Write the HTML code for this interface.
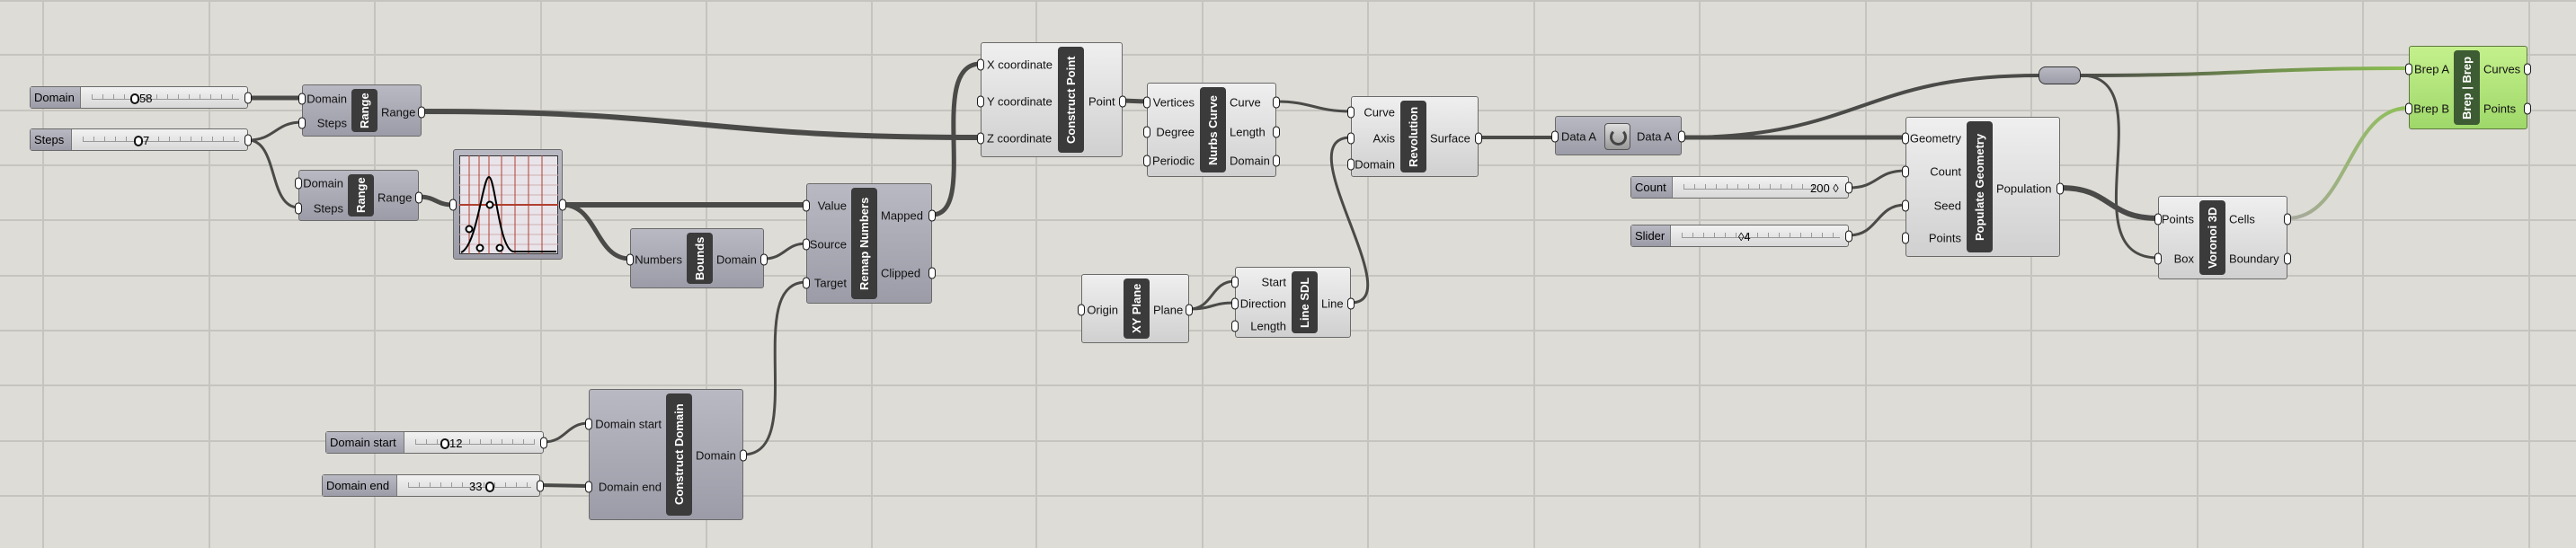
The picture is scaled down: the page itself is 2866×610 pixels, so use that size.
<!DOCTYPE html>
<html><head><meta charset="utf-8"><style>
body{margin:0;width:2866px;height:610px;overflow:hidden;background:#dedcd6;font-family:"Liberation Sans",sans-serif;}
svg{position:absolute;left:0;top:0}
.c{position:absolute;box-sizing:border-box;border:1.5px solid #6a6a6a;border-radius:3px;background:linear-gradient(#efefef,#d0d0d0);}
.d{background:linear-gradient(#b9b9c3,#9c9ca8);}
.g{background:linear-gradient(#c4f08c,#9fd86a);border-color:#5d7a40}
.t{position:absolute;top:4px;bottom:4px;width:29px;background:#3b3b3b;border-radius:4px;color:#fff;font-weight:bold;font-size:13px;writing-mode:vertical-rl;transform:rotate(180deg);display:flex;align-items:center;justify-content:center;white-space:nowrap;overflow:hidden}
.g .t{background:#3e5c33}
.l{position:absolute;font-size:13px;color:#111;transform:translateY(-50%);white-space:nowrap}
.r{text-align:right}
.p{position:absolute;width:6px;height:11px;border:1.5px solid #1a1a1a;background:#fff;border-radius:6px;transform:translateY(-50%)}
.s{position:absolute;box-sizing:border-box;height:25px;border:1.5px solid #6a6a6a;border-radius:3px;background:linear-gradient(#f2f2f2,#d8d8d8);}
.sl{position:absolute;left:0;top:0;bottom:0;background:linear-gradient(#b9b9c3,#9c9ca8);border-right:1px solid #777;font-size:13px;display:flex;align-items:center;padding-left:4px;box-sizing:border-box}
.gr{position:absolute;top:8px;height:5px;border-bottom:1px solid #999;background:repeating-linear-gradient(90deg,#999 0 1px,transparent 1px 12px)}
.k{position:absolute;top:7px;width:6px;height:8px;border:2px solid #111;border-radius:5px;background:#fff}
.v{position:absolute;top:5px;font-size:13px}
</style></head><body>
<svg width="2866" height="610">
<g stroke="#c6c4be" stroke-width="2">
<line x1="48" y1="0" x2="48" y2="610"/><line x1="233" y1="0" x2="233" y2="610"/><line x1="417" y1="0" x2="417" y2="610"/><line x1="602" y1="0" x2="602" y2="610"/><line x1="786" y1="0" x2="786" y2="610"/><line x1="970" y1="0" x2="970" y2="610"/><line x1="1153" y1="0" x2="1153" y2="610"/><line x1="1338" y1="0" x2="1338" y2="610"/><line x1="1522" y1="0" x2="1522" y2="610"/><line x1="1707" y1="0" x2="1707" y2="610"/><line x1="1891" y1="0" x2="1891" y2="610"/><line x1="2076" y1="0" x2="2076" y2="610"/><line x1="2260" y1="0" x2="2260" y2="610"/><line x1="2445" y1="0" x2="2445" y2="610"/><line x1="2629" y1="0" x2="2629" y2="610"/><line x1="2814" y1="0" x2="2814" y2="610"/>
<line x1="0" y1="1" x2="2866" y2="1"/><line x1="0" y1="61" x2="2866" y2="61"/><line x1="0" y1="123" x2="2866" y2="123"/><line x1="0" y1="184" x2="2866" y2="184"/><line x1="0" y1="245" x2="2866" y2="245"/><line x1="0" y1="307" x2="2866" y2="307"/><line x1="0" y1="368" x2="2866" y2="368"/><line x1="0" y1="429" x2="2866" y2="429"/><line x1="0" y1="491" x2="2866" y2="491"/><line x1="0" y1="552" x2="2866" y2="552"/>
</g>
<defs>
<linearGradient id="gg1" gradientUnits="userSpaceOnUse" x1="2315" y1="0" x2="2680" y2="0"><stop offset="0" stop-color="#4a4a48"/><stop offset="1" stop-color="#8cc152"/></linearGradient>
<linearGradient id="gg2" gradientUnits="userSpaceOnUse" x1="2545" y1="0" x2="2680" y2="0"><stop offset="0" stop-color="#a8a8a0"/><stop offset="1" stop-color="#8cc152"/></linearGradient>
</defs>
<g fill="none" stroke="#4a4a48" stroke-linecap="round">
<path d="M276 109 L336 109" stroke-width="5"/>
<path d="M276 156 C306 156 306 136 336 136" stroke-width="3"/>
<path d="M276 156 C310 156 298 231 332 231" stroke-width="3"/>
<path d="M469 124 C780 124 780 153 1091 153" stroke-width="6"/>
<path d="M466 219 C485 219 485 228 504 228" stroke-width="5"/>
<path d="M626 228 L897 228" stroke-width="6"/>
<path d="M626 228 C665 228 662 288 701 288" stroke-width="5"/>
<path d="M850 288 C873 288 874 271 897 271" stroke-width="3"/>
<path d="M827 506 C900 506 825 314 897 314" stroke-width="3"/>
<path d="M605 492 C630 492 630 471 655 471" stroke-width="3"/>
<path d="M601 540 L655 541" stroke-width="4"/>
<path d="M1037 239 C1090 239 1030 71 1091 71" stroke-width="5"/>
<path d="M1249 112 L1276 113" stroke-width="5"/>
<path d="M1420 113 C1460 113 1463 124 1503 124" stroke-width="3"/>
<path d="M1323 344 C1350 344 1347 313 1374 313" stroke-width="3"/>
<path d="M1323 344 C1350 344 1347 337 1374 337" stroke-width="3"/>
<path d="M1503 337 C1570 337 1430 153 1503 153" stroke-width="3"/>
<path d="M1645 153 L1730 153" stroke-width="4"/>
<path d="M1871 153 L2120 153" stroke-width="5"/>
<path d="M1871 153 C2070 153 2070 84 2268 84" stroke-width="4"/>
<path d="M2057 209 C2090 209 2087 190 2120 190" stroke-width="3"/>
<path d="M2057 262 C2090 262 2087 228 2120 228" stroke-width="3"/>
<path d="M2292 209 C2350 209 2343 243 2401 243" stroke-width="6"/>
<path d="M2315 84 C2410 84 2300 287 2401 287" stroke-width="3"/>
<path d="M2315 84 C2500 84 2500 76 2680 76" stroke="url(#gg1)" stroke-width="4"/>
<path d="M2545 243 C2612 243 2612 120 2680 120" stroke="url(#gg2)" stroke-width="4"/>
</g>
</svg>

<div class="s" style="left:33px;top:96px;width:243px"><div class="sl" style="width:56px">Domain</div><div class="gr" style="left:68px;width:164px"></div><div class="k" style="left:111px"></div><div class="v" style="left:121px">58</div><div class="p" style="right:-5px;top:12px"></div></div>
<div class="s" style="left:33px;top:143px;width:243px"><div class="sl" style="width:46px">Steps</div><div class="gr" style="left:58px;width:174px"></div><div class="k" style="left:115px"></div><div class="v" style="left:125px">7</div><div class="p" style="right:-5px;top:12px"></div></div>
<div class="s" style="left:362px;top:480px;width:243px"><div class="sl" style="width:87px">Domain start</div><div class="gr" style="left:99px;width:133px"></div><div class="k" style="left:127px"></div><div class="v" style="left:137px">12</div><div class="p" style="right:-5px;top:12px"></div></div>
<div class="s" style="left:358px;top:528px;width:243px"><div class="sl" style="width:83px">Domain end</div><div class="gr" style="left:95px;width:137px"></div><div class="v" style="left:163px">33</div><div class="k" style="left:181px"></div><div class="p" style="right:-5px;top:12px"></div></div>
<div class="s" style="left:1814px;top:196px;width:243px"><div class="sl" style="width:46px">Count</div><div class="gr" style="left:58px;width:150px"></div><div class="v" style="left:199px">200 ◊</div><div class="p" style="right:-5px;top:12px"></div></div>
<div class="s" style="left:1814px;top:250px;width:243px"><div class="sl" style="width:44px">Slider</div><div class="gr" style="left:56px;width:176px"></div><div class="v" style="left:119px">◊4</div><div class="p" style="right:-5px;top:12px"></div></div>

<div class="c d" style="left:336px;top:94px;width:133px;height:58px"><div class="t" style="left:54px">Range</div>
<div class="l r" style="right:82px;top:15px">Domain</div><div class="l r" style="right:82px;top:42px">Steps</div><div class="l" style="left:87px;top:30px">Range</div>
<div class="p" style="left:-5px;top:15px"></div><div class="p" style="left:-5px;top:42px"></div><div class="p" style="right:-5px;top:30px"></div></div>
<div class="c d" style="left:332px;top:189px;width:134px;height:57px"><div class="t" style="left:54px">Range</div>
<div class="l r" style="right:83px;top:14px">Domain</div><div class="l r" style="right:83px;top:42px">Steps</div><div class="l" style="left:87px;top:30px">Range</div>
<div class="p" style="left:-5px;top:14px"></div><div class="p" style="left:-5px;top:42px"></div><div class="p" style="right:-5px;top:30px"></div></div>
<div class="c d" style="left:504px;top:166px;width:122px;height:123px">
<svg style="left:6px;top:6px" width="110" height="110"><rect x="0" y="0" width="110" height="110" fill="#e8e4ea" stroke="#333" stroke-width="2"/>
<g stroke="#d0b0b0" stroke-width="1"><line x1="0" y1="11" x2="110" y2="11"/><line x1="0" y1="22" x2="110" y2="22"/><line x1="0" y1="33" x2="110" y2="33"/><line x1="0" y1="44" x2="110" y2="44"/><line x1="0" y1="66" x2="110" y2="66"/><line x1="0" y1="77" x2="110" y2="77"/><line x1="0" y1="88" x2="110" y2="88"/><line x1="0" y1="99" x2="110" y2="99"/></g>
<g stroke="#b04030" stroke-width="1"><line x1="11" y1="0" x2="11" y2="110"/><line x1="22" y1="0" x2="22" y2="110"/><line x1="33" y1="0" x2="33" y2="110"/><line x1="47" y1="0" x2="47" y2="110"/><line x1="62" y1="0" x2="62" y2="110"/><line x1="77" y1="0" x2="77" y2="110"/><line x1="92" y1="0" x2="92" y2="110"/><line x1="0" y1="55" x2="110" y2="55" stroke-width="2"/></g>
<path d="M2 108 C20 100 26 24 33 24 C40 24 44 104 60 107 L108 107" fill="none" stroke="#000" stroke-width="2"/>
<g fill="#fff" stroke="#000" stroke-width="2"><circle cx="11" cy="82" r="3.5"/><circle cx="34" cy="55" r="3.5"/><circle cx="23" cy="103" r="3.5"/><circle cx="45" cy="103" r="3.5"/></g></svg>
<div class="p" style="left:-5px;top:61px"></div><div class="p" style="right:-5px;top:61px"></div></div>
<div class="c d" style="left:701px;top:254px;width:149px;height:67px"><div class="t" style="left:62px">Bounds</div>
<div class="l r" style="right:90px;top:34px">Numbers</div><div class="l" style="left:95px;top:34px">Domain</div>
<div class="p" style="left:-5px;top:34px"></div><div class="p" style="right:-5px;top:34px"></div></div>
<div class="c d" style="left:897px;top:204px;width:140px;height:134px"><div class="t" style="left:49px">Remap Numbers</div>
<div class="l r" style="right:94px;top:24px">Value</div><div class="l r" style="right:94px;top:67px">Source</div><div class="l r" style="right:94px;top:110px">Target</div>
<div class="l" style="left:82px;top:35px">Mapped</div><div class="l" style="left:82px;top:99px">Clipped</div>
<div class="p" style="left:-5px;top:24px"></div><div class="p" style="left:-5px;top:67px"></div><div class="p" style="left:-5px;top:110px"></div><div class="p" style="right:-5px;top:35px"></div><div class="p" style="right:-5px;top:99px"></div></div>
<div class="c d" style="left:655px;top:433px;width:172px;height:146px"><div class="t" style="left:85px">Construct Domain</div>
<div class="l r" style="right:90px;top:38px">Domain start</div><div class="l r" style="right:90px;top:108px">Domain end</div><div class="l" style="left:118px;top:73px">Domain</div>
<div class="p" style="left:-5px;top:38px"></div><div class="p" style="left:-5px;top:108px"></div><div class="p" style="right:-5px;top:73px"></div></div>
<div class="c" style="left:1091px;top:47px;width:158px;height:128px"><div class="t" style="left:85px">Construct Point</div>
<div class="l" style="left:6px;top:24px">X coordinate</div><div class="l" style="left:6px;top:65px">Y coordinate</div><div class="l" style="left:6px;top:106px">Z coordinate</div><div class="l" style="left:119px;top:65px">Point</div>
<div class="p" style="left:-5px;top:24px"></div><div class="p" style="left:-5px;top:65px"></div><div class="p" style="left:-5px;top:106px"></div><div class="p" style="right:-5px;top:65px"></div></div>
<div class="c" style="left:1276px;top:92px;width:144px;height:105px"><div class="t" style="left:58px">Nurbs Curve</div>
<div class="l r" style="right:90px;top:21px">Vertices</div><div class="l r" style="right:90px;top:54px">Degree</div><div class="l r" style="right:90px;top:86px">Periodic</div>
<div class="l" style="left:91px;top:21px">Curve</div><div class="l" style="left:91px;top:54px">Length</div><div class="l" style="left:91px;top:86px">Domain</div>
<div class="p" style="left:-5px;top:21px"></div><div class="p" style="left:-5px;top:54px"></div><div class="p" style="left:-5px;top:86px"></div><div class="p" style="right:-5px;top:21px"></div><div class="p" style="right:-5px;top:54px"></div><div class="p" style="right:-5px;top:86px"></div></div>
<div class="c" style="left:1503px;top:107px;width:142px;height:90px"><div class="t" style="left:54px">Revolution</div>
<div class="l r" style="right:92px;top:17px">Curve</div><div class="l r" style="right:92px;top:46px">Axis</div><div class="l r" style="right:92px;top:75px">Domain</div><div class="l" style="left:87px;top:46px">Surface</div>
<div class="p" style="left:-5px;top:17px"></div><div class="p" style="left:-5px;top:46px"></div><div class="p" style="left:-5px;top:75px"></div><div class="p" style="right:-5px;top:46px"></div></div>
<div class="c" style="left:1203px;top:305px;width:120px;height:77px"><div class="t" style="left:46px">XY Plane</div>
<div class="l r" style="right:78px;top:39px">Origin</div><div class="l" style="left:79px;top:39px">Plane</div>
<div class="p" style="left:-5px;top:39px"></div><div class="p" style="right:-5px;top:39px"></div></div>
<div class="c" style="left:1374px;top:297px;width:129px;height:79px"><div class="t" style="left:62px">Line SDL</div>
<div class="l r" style="right:71px;top:16px">Start</div><div class="l r" style="right:71px;top:40px">Direction</div><div class="l r" style="right:71px;top:65px">Length</div><div class="l" style="left:95px;top:40px">Line</div>
<div class="p" style="left:-5px;top:16px"></div><div class="p" style="left:-5px;top:40px"></div><div class="p" style="left:-5px;top:65px"></div><div class="p" style="right:-5px;top:40px"></div></div>
<div class="c d" style="left:1730px;top:129px;width:141px;height:44px">
<div class="l" style="left:6px;top:22px">Data A</div><div class="l" style="left:90px;top:22px">Data A</div>
<div style="position:absolute;left:54px;top:7px;width:27px;height:28px;border-radius:4px;background:linear-gradient(#ddd,#999);border:1px solid #555"><div style="position:absolute;left:5px;top:5px;width:13px;height:13px;border:3px solid #444;border-top-color:transparent;border-radius:50%"></div></div>
<div class="p" style="left:-5px;top:22px"></div><div class="p" style="right:-5px;top:22px"></div></div>
<div class="c d" style="left:2268px;top:74px;width:47px;height:20px;border-radius:8px;border-color:#333"></div>
<div class="c" style="left:2120px;top:130px;width:172px;height:156px"><div class="t" style="left:67px">Populate Geometry</div>
<div class="l r" style="right:109px;top:23px">Geometry</div><div class="l r" style="right:109px;top:60px">Count</div><div class="l r" style="right:109px;top:98px">Seed</div><div class="l r" style="right:109px;top:134px">Points</div><div class="l" style="left:100px;top:79px">Population</div>
<div class="p" style="left:-5px;top:23px"></div><div class="p" style="left:-5px;top:60px"></div><div class="p" style="left:-5px;top:98px"></div><div class="p" style="left:-5px;top:134px"></div><div class="p" style="right:-5px;top:79px"></div></div>
<div class="c" style="left:2401px;top:218px;width:144px;height:93px"><div class="t" style="left:45px">Voronoi 3D</div>
<div class="l r" style="right:103px;top:25px">Points</div><div class="l r" style="right:103px;top:69px">Box</div><div class="l" style="left:78px;top:25px">Cells</div><div class="l" style="left:78px;top:69px">Boundary</div>
<div class="p" style="left:-5px;top:25px"></div><div class="p" style="left:-5px;top:69px"></div><div class="p" style="right:-5px;top:25px"></div><div class="p" style="right:-5px;top:69px"></div></div>
<div class="c g" style="left:2680px;top:51px;width:132px;height:93px"><div class="t" style="left:49px">Brep | Brep</div>
<div class="l r" style="right:86px;top:25px">Brep A</div><div class="l r" style="right:86px;top:69px">Brep B</div><div class="l" style="left:82px;top:25px">Curves</div><div class="l" style="left:82px;top:69px">Points</div>
<div class="p" style="left:-5px;top:25px"></div><div class="p" style="left:-5px;top:69px"></div><div class="p" style="right:-5px;top:25px"></div><div class="p" style="right:-5px;top:69px"></div></div>
</body></html>
